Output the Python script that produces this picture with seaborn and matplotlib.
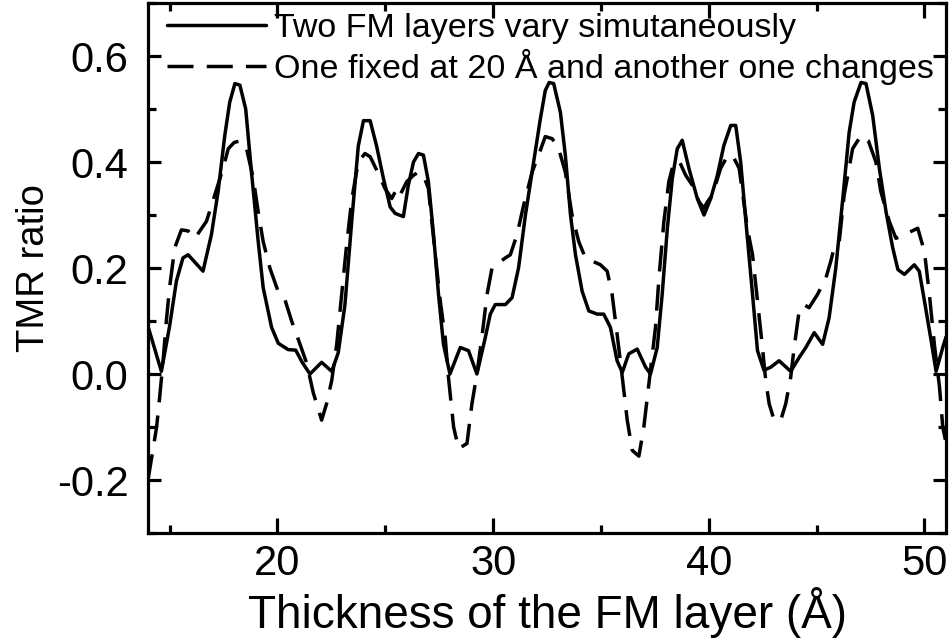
import numpy as np
import pandas as pd
import matplotlib
matplotlib.use("Agg")
import matplotlib.pyplot as plt
import seaborn as sns
from matplotlib.ticker import MultipleLocator

# ---- data ----
x_solid = [14.0, 14.62, 15.0, 15.32, 15.62, 15.86, 16.55, 16.94, 17.25, 17.56, 17.79, 18.03, 18.26,
           18.53, 18.8, 19.11, 19.34, 19.73, 20.04, 20.5, 20.85, 21.15, 21.51, 22.05, 22.52, 22.82,
           23.13, 23.45, 23.75, 23.99, 24.3, 24.6, 24.91, 25.23, 25.46, 25.84, 26.07, 26.31, 26.54,
           26.77, 27.0, 27.24, 27.47, 27.7, 28.0, 28.48, 28.86, 29.25, 29.64, 29.87, 30.1, 30.57,
           30.88, 31.18, 31.5, 31.88, 32.19, 32.42, 32.6, 32.81, 33.12, 33.35, 33.59, 33.82, 34.13,
           34.44, 34.83, 35.13, 35.44, 35.75, 35.99, 36.29, 36.68, 37.07, 37.3, 37.61, 37.84, 38.08,
           38.31, 38.54, 38.77, 39.08, 39.47, 39.78, 40.09, 40.4, 40.7, 41.02, 41.25, 41.48, 41.75,
           42.03, 42.26, 42.56, 42.88, 43.26, 43.8, 44.19, 44.5, 44.89, 45.28, 45.58, 45.89, 46.2,
           46.51, 46.74, 47.06, 47.29, 47.6, 47.91, 48.22, 48.53, 48.77, 49.07, 49.53, 49.76, 50.0,
           50.31, 50.54, 50.85, 51.0]
y_solid = [0.09, 0.005, 0.09, 0.176, 0.219, 0.225, 0.194, 0.263, 0.344, 0.45, 0.513, 0.548, 0.545,
           0.50, 0.38, 0.25, 0.163, 0.088, 0.058, 0.046, 0.045, 0.022, 0.0, 0.022, 0.005, 0.04,
           0.13, 0.29, 0.43, 0.478, 0.478, 0.43, 0.37, 0.315, 0.303, 0.297, 0.356, 0.40, 0.416,
           0.413, 0.363, 0.263, 0.15, 0.056, 0.0, 0.05, 0.044, 0.0, 0.069, 0.113, 0.131, 0.131,
           0.144, 0.2, 0.3, 0.4, 0.481, 0.535, 0.55, 0.548, 0.494, 0.413, 0.3, 0.225, 0.156,
           0.119, 0.113, 0.113, 0.088, 0.025, 0.003, 0.038, 0.047, 0.013, 0.0, 0.05, 0.15, 0.275,
           0.369, 0.425, 0.441, 0.388, 0.331, 0.3, 0.331, 0.375, 0.431, 0.469, 0.469, 0.4, 0.275,
           0.15, 0.044, 0.007, 0.013, 0.025, 0.005, 0.031, 0.05, 0.078, 0.056, 0.106, 0.2, 0.325,
           0.456, 0.513, 0.55, 0.548, 0.488, 0.388, 0.306, 0.238, 0.197, 0.188, 0.206, 0.194, 0.138,
           0.063, 0.005, 0.05, 0.07]

x_dash = [14.0, 14.4, 14.55, 14.7, 14.85, 15.0, 15.24, 15.55, 15.86, 16.17, 16.71, 17.1, 17.48,
          17.72, 18.0, 18.3, 18.57, 18.88, 19.11, 19.34, 19.65, 20.04, 20.35, 20.66, 21.05, 21.36,
          21.66, 22.05, 22.28, 22.52, 22.75, 22.98, 23.21, 23.45, 23.75, 24.06, 24.3, 24.6, 24.99,
          25.3, 25.54, 25.69, 26.0, 26.31, 26.54, 26.77, 27.0, 27.32, 27.55, 27.78, 27.93, 28.01,
          28.17, 28.4, 28.79, 29.02, 29.25, 29.48, 29.72, 29.95, 30.26, 30.57, 30.8, 31.11, 31.42,
          31.81, 32.11, 32.42, 32.74, 33.04, 33.35, 33.66, 33.97, 34.28, 34.98, 35.29, 35.52,
          35.75, 35.99, 36.22, 36.45, 36.76, 36.99, 37.22, 37.53, 37.69, 37.92, 38.15, 38.38,
          38.65, 38.93, 39.24, 39.55, 39.78, 39.94, 40.17, 40.55, 40.85, 41.1, 41.41, 41.79, 42.03,
          42.26, 42.49, 42.64, 42.8, 43.03, 43.34, 43.57, 43.8, 43.96, 44.19, 44.42, 44.65, 45.04,
          45.43, 45.66, 45.81, 46.05, 46.28, 46.67, 47.06, 47.4, 47.75, 47.98, 48.37, 48.68, 49.07,
          49.69, 50.0, 50.23, 50.46, 50.7, 50.85, 51.0]
y_dash = [-0.2, -0.1, -0.04, 0.025, 0.1, 0.163, 0.238, 0.272, 0.27, 0.256, 0.288, 0.338, 0.388,
          0.425, 0.437, 0.44, 0.425, 0.369, 0.306, 0.25, 0.2, 0.155, 0.14, 0.1, 0.056, 0.02,
          -0.035, -0.087, -0.056, -0.012, 0.056, 0.15, 0.244, 0.33, 0.40, 0.416, 0.41, 0.385, 0.35,
          0.331, 0.35, 0.338, 0.363, 0.375, 0.381, 0.375, 0.35, 0.225, 0.138, 0.069, -0.006, -0.038,
          -0.1, -0.141, -0.131, -0.056, 0.0, 0.069, 0.15, 0.2, 0.21, 0.219, 0.225, 0.263, 0.319,
          0.381, 0.413, 0.448, 0.444, 0.425, 0.381, 0.3, 0.25, 0.219, 0.206, 0.194, 0.15,
          0.075, -0.006, -0.087, -0.144, -0.155, -0.1, -0.02, 0.088, 0.181, 0.288, 0.363, 0.40,
          0.40, 0.375, 0.356, 0.325, 0.313, 0.325, 0.338, 0.388, 0.41, 0.413, 0.388, 0.275, 0.225,
          0.138, 0.05, -0.012, -0.056, -0.087, -0.087, -0.056, -0.006, 0.05, 0.119, 0.131, 0.125, 0.15,
          0.181, 0.213, 0.238, 0.25, 0.338, 0.425, 0.45, 0.44, 0.4, 0.344, 0.288, 0.256, 0.263,
          0.275, 0.231, 0.15, 0.056, -0.025, -0.1, -0.13]

label_solid = "Two FM layers vary simutaneously"
label_dash = "One fixed at 20 \u00c5 and another one changes"
x_label = "Thickness of the FM layer (\u00c5)"
y_label = "TMR ratio"

# ---- style ----
sns.set_theme(style="white")
plt.rcParams["font.family"] = ["Liberation Sans", "DejaVu Sans"]
plt.rcParams["axes.unicode_minus"] = False

fig = plt.figure(figsize=(9.49, 6.40), dpi=100)
ax = fig.add_axes([148/949, 1 - 533/640, (946-148)/949, (533-3)/640])

lw = 2.5
sns.lineplot(x=x_solid, y=y_solid, ax=ax, color="black", lw=lw, sort=False,
             estimator=None, label=label_solid)
sns.lineplot(x=x_dash, y=y_dash, ax=ax, color="black", lw=lw, sort=False,
             estimator=None, label=label_dash)
ax.lines[1].set_dashes((7.5, 3.8))

ax.set_xlim(14, 51)
ax.set_ylim(-0.3, 0.7)
ax.xaxis.set_major_locator(MultipleLocator(10))
ax.xaxis.set_minor_locator(MultipleLocator(5))
ax.yaxis.set_major_locator(MultipleLocator(0.2))
ax.yaxis.set_minor_locator(MultipleLocator(0.1))
ax.yaxis.set_major_formatter(matplotlib.ticker.FormatStrFormatter("%.1f"))

for s in ax.spines.values():
    s.set_linewidth(2.3)
    s.set_color("black")

ax.tick_params(axis="both", which="both", direction="in", bottom=True, left=True,
               top=True, right=True, color="black", width=2.3, labelsize=30,
               labelcolor="black")
ax.tick_params(axis="x", which="major", length=11, pad=8)
ax.tick_params(axis="x", which="minor", length=6)
ax.tick_params(axis="y", which="major", length=9.5, pad=14)
ax.tick_params(axis="y", which="minor", length=5.5)

ax.set_xlabel(x_label, fontsize=33, color="black", labelpad=2)
ax.set_ylabel(y_label, fontsize=27.5, color="black")
ax.yaxis.set_label_coords(-96/798, 0.5)

leg = ax.legend(loc="upper left", bbox_to_anchor=((167-148)/798, 0.982), frameon=False,
                fontsize=24.5, handlelength=2.9, handletextpad=0.25, labelspacing=0.15,
                borderpad=0, borderaxespad=0)
leg.get_lines()[1].set_dashes((7.5, 3.8))
for t in leg.get_texts():
    t.set_color("black")

fig.savefig("out.png", dpi=100)
